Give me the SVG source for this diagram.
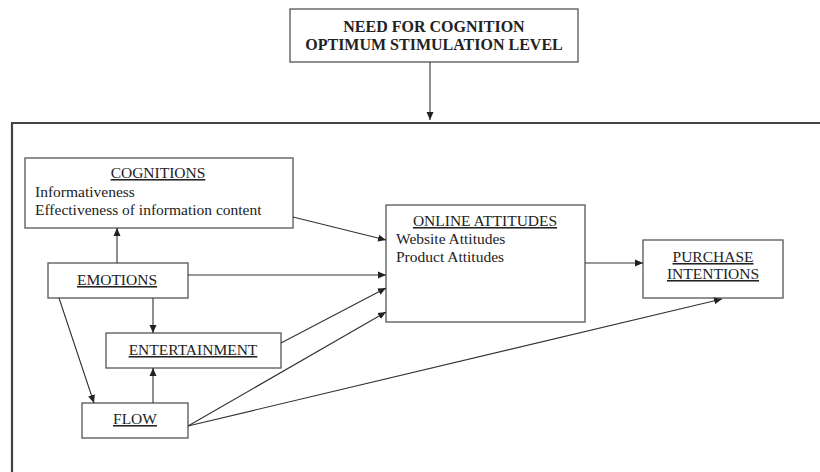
<svg xmlns="http://www.w3.org/2000/svg" width="820" height="472" viewBox="0 0 820 472">
<style>
.box{fill:#ffffff;stroke:#555;stroke-width:1.3}
.t{font-family:"Liberation Serif","Times New Roman",serif;font-size:15.5px;fill:#222}
.h{text-anchor:middle;text-decoration:underline}
.b{font-weight:bold;text-anchor:middle;font-size:16px}
.c{stroke:#333;stroke-width:1.1;fill:none;marker-end:url(#ah)}
</style>
<defs>
<marker id="ah" markerUnits="userSpaceOnUse" markerWidth="9" markerHeight="8" refX="8" refY="4" orient="auto">
<path d="M0,0.5 L8,4 L0,7.5 z" fill="#222"/>
</marker>
</defs>
<rect width="820" height="472" fill="#fff"/>
<g id="frame"><path d="M12,472 V123 H820" fill="none" stroke="#444" stroke-width="2.2"/></g>
<g id="need">
<rect class="box" x="290" y="9" width="288" height="53"/>
<text class="t b" x="434" y="32">NEED FOR COGNITION</text>
<text class="t b" x="434" y="50">OPTIMUM STIMULATION LEVEL</text>
</g>
<g id="cognitions">
<rect class="box" x="25" y="158" width="268" height="70"/>
<text class="t h" x="158" y="178">COGNITIONS</text>
<text class="t" x="35" y="197">Informativeness</text>
<text class="t" x="35" y="215">Effectiveness of information content</text>
</g>
<g id="emotions">
<rect class="box" x="48" y="263" width="140" height="35"/>
<text class="t h" x="117" y="285">EMOTIONS</text>
</g>
<g id="entertainment">
<rect class="box" x="106" y="333" width="175" height="35"/>
<text class="t h" x="193" y="355">ENTERTAINMENT</text>
</g>
<g id="flow">
<rect class="box" x="82" y="403" width="106" height="35"/>
<text class="t h" x="135" y="424">FLOW</text>
</g>
<g id="online">
<rect class="box" x="386" y="205" width="199" height="117"/>
<text class="t h" x="485" y="226">ONLINE ATTITUDES</text>
<text class="t" x="396" y="244">Website Attitudes</text>
<text class="t" x="396" y="262">Product Attitudes</text>
</g>
<g id="purchase">
<rect class="box" x="643" y="240" width="140" height="58"/>
<text class="t h" x="713" y="262">PURCHASE</text>
<text class="t h" x="713" y="279">INTENTIONS</text>
</g>
<g id="connectors">
<line class="c" x1="430" y1="62" x2="430" y2="120"/>
<line class="c" x1="117" y1="263" x2="117" y2="228"/>
<line class="c" x1="153" y1="298" x2="153" y2="333"/>
<line class="c" x1="153" y1="403" x2="153" y2="368"/>
<line class="c" x1="59" y1="298" x2="94" y2="403"/>
<line class="c" x1="293" y1="217" x2="386" y2="240"/>
<line class="c" x1="188" y1="275" x2="386" y2="275"/>
<line class="c" x1="281" y1="343" x2="386" y2="288"/>
<line class="c" x1="188" y1="426" x2="386" y2="312"/>
<line class="c" x1="188" y1="426" x2="722" y2="299"/>
<line class="c" x1="585" y1="263" x2="643" y2="263"/>
</g>
</svg>
